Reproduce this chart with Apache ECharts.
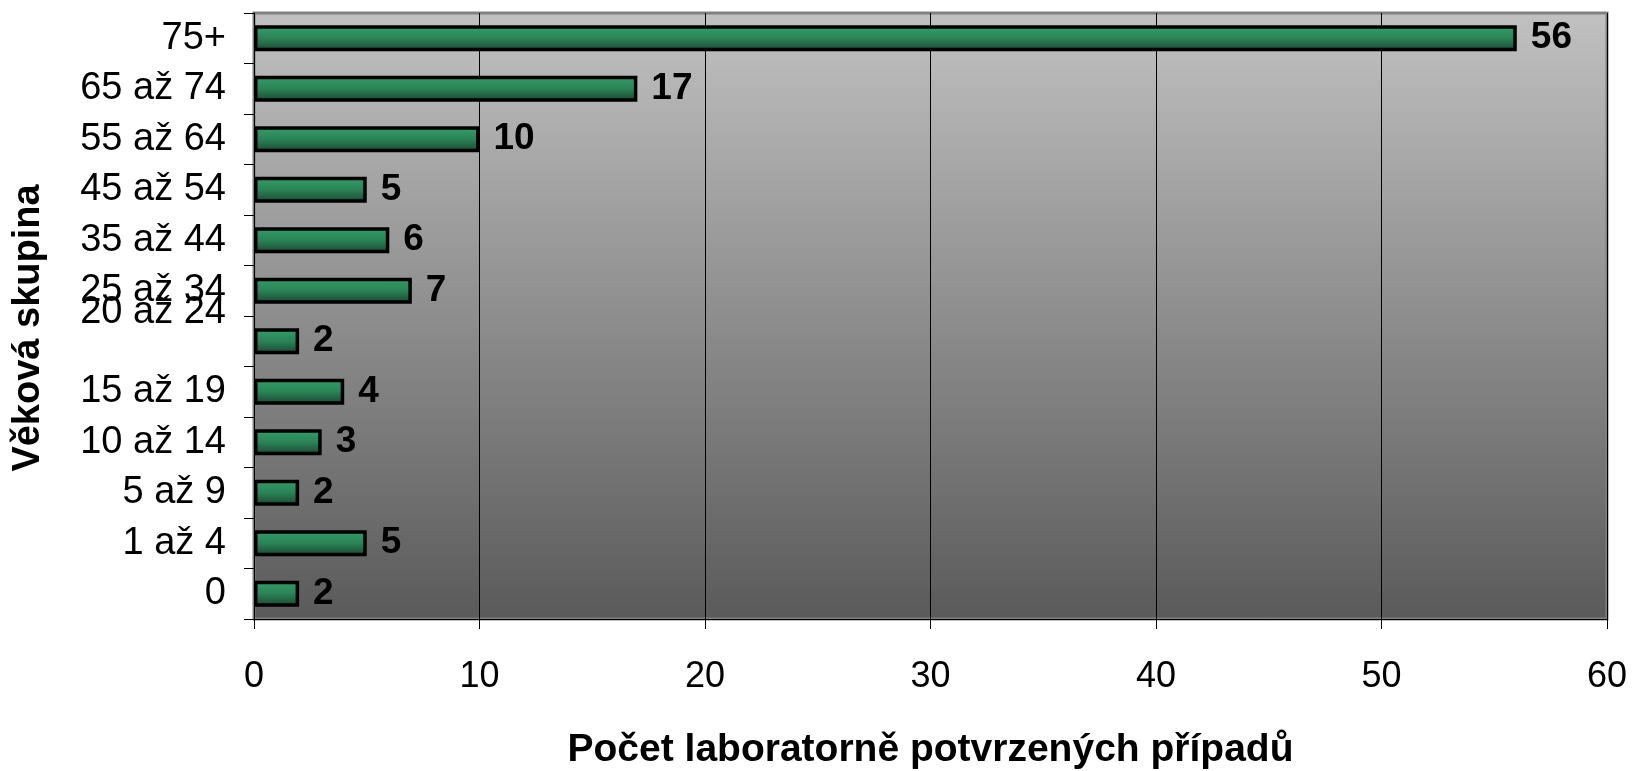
<!DOCTYPE html>
<html>
<head>
<meta charset="utf-8">
<script src="https://cdn.jsdelivr.net/npm/echarts@6/dist/echarts.min.js"></script>
<style>
html,body{margin:0;padding:0;background:#fff;}
#chart{width:1635px;height:771px;}
</style>
</head>
<body>
<div id="chart"></div>
<script>
const categories = ['0', '1 až 4', '5 až 9', '10 až 14', '15 až 19', '20 až 24', '25 až 34', '35 až 44', '45 až 54', '55 až 64', '65 až 74', '75+'];
const values = [2, 5, 2, 3, 4, 2, 7, 6, 5, 10, 17, 56];
const xTicks = [0, 10, 20, 30, 40, 50, 60];
const xTitle = 'Počet laboratorně potvrzených případů';
const yTitle = 'Věková skupina';

const chart = echarts.init(document.getElementById('chart'), null, {renderer: 'canvas'});
const font = 'Liberation Sans, Arial, sans-serif';
chart.setOption({
  animation: false,
  backgroundColor: '#ffffff',
  grid: {
    left: 254, right: 28, top: 13, bottom: 152,
    outerBoundsMode: 'none',
    containLabel: false,
    show: true,
    borderColor: '#808080',
    borderWidth: 3,
    backgroundColor: new echarts.graphic.LinearGradient(0, 0, 0, 1, [
      {offset: 0, color: '#c1c1c1'},
      {offset: 1, color: '#5a5a5a'}
    ])
  },
  graphic: [{
    type: 'text',
    x: 29, y: 328,
    rotation: Math.PI / 2,
    style: {
      text: yTitle,
      fill: '#000',
      font: 'bold 38px Liberation Sans, Arial, sans-serif',
      textAlign: 'center',
      textVerticalAlign: 'middle'
    }
  }],
  xAxis: {
    type: 'value',
    min: xTicks[0], max: xTicks[xTicks.length - 1], interval: 10,
    axisLine: {show: true, lineStyle: {color: '#000', width: 1}},
    axisTick: {show: true, length: 10, lineStyle: {color: '#000'}},
    splitLine: {show: true, lineStyle: {color: '#000', width: 1}},
    axisLabel: {color: '#000', fontSize: 36, fontFamily: font, margin: 40, showMinLabel: true, showMaxLabel: true},
    name: xTitle,
    nameLocation: 'middle',
    nameGap: 112,
    nameTextStyle: {color: '#000', fontSize: 39, fontWeight: 'bold', fontFamily: font}
  },
  yAxis: {
    type: 'category',
    data: categories,
    axisLine: {show: true, lineStyle: {color: '#000', width: 1}},
    axisTick: {show: true, length: 10, lineStyle: {color: '#000'}},
    axisLabel: {
      interval: 0, showMinLabel: true, showMaxLabel: true, hideOverlap: false,
      color: '#000', fontSize: 38, fontFamily: font, margin: 28, lineHeight: 58,
      formatter: function (v) { return v === '20 až 24' ? v + '\n ' : v; }
    }
  },
  series: [{
    type: 'bar',
    data: values,
    barWidth: 26,
    itemStyle: {
      borderColor: '#000',
      borderWidth: 3.5,
      color: new echarts.graphic.LinearGradient(0, 0, 0, 1, [
        {offset: 0, color: '#33a06a'},
        {offset: 0.5, color: '#2a8356'},
        {offset: 1, color: '#1a4431'}
      ])
    },
    label: {
      show: true, position: 'right', distance: 14,
      color: '#000', fontSize: 37, fontWeight: 'bold', fontFamily: font
    }
  }]
});
</script>
</body>
</html>
